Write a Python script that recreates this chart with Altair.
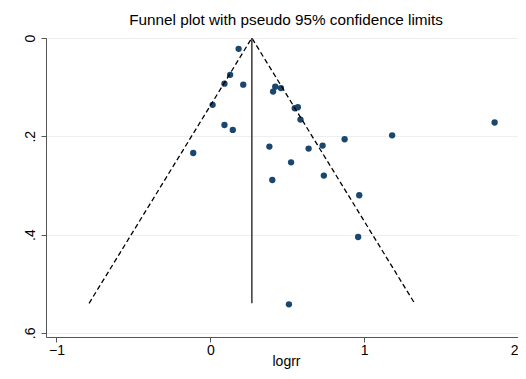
import altair as alt
import pandas as pd

# Study estimates (log relative risk) and their standard errors
logrr = [0.184, 0.129, 0.092, 0.214, 0.015, 0.422, 0.459, 0.408, 0.549, 0.569,
         0.586, 0.092, 0.146, 0.873, 1.182, -0.111, 0.384, 0.639, 0.730, 0.525,
         0.738, 0.403, 0.968, 0.961, 0.511, 1.848]
se = [0.022, 0.075, 0.093, 0.095, 0.136, 0.099, 0.102, 0.109, 0.143, 0.141,
      0.166, 0.177, 0.187, 0.206, 0.198, 0.234, 0.221, 0.225, 0.219, 0.253,
      0.280, 0.289, 0.320, 0.405, 0.542, 0.172]

# Pseudo 95% confidence limits (funnel) and pooled estimate line
funnel_x = [-0.788, 0.27, 1.328]
funnel_y = [0.54, 0.0, 0.54]
funnel_order = [0, 1, 2]
pooled_x = [0.27]
pooled_y0 = [0.0]
pooled_y1 = [0.54]

x_ticks = [-1, 0, 1, 2]
y_ticks = [0, 0.2, 0.4, 0.6]

points = pd.DataFrame({"logrr": logrr, "se": se})
funnel = pd.DataFrame({"x": funnel_x, "y": funnel_y, "o": funnel_order})
pooled = pd.DataFrame({"x": pooled_x, "y": pooled_y0, "y2": pooled_y1})

FONT = "Liberation Sans"

xscale = alt.Scale(domain=[-1.068, 2.0], nice=False, zero=False)
yscale = alt.Scale(domain=[0, 0.6085], reverse=True, nice=False, zero=False)

xaxis = alt.Axis(values=x_ticks, format="d", title="logrr", grid=False,
                 labelFontSize=14, titleFontSize=14, labelFont=FONT, titleFont=FONT,
                 labelColor="black", titleColor="black", titleFontWeight="normal",
                 domainColor="#555555", tickColor="#555555", tickSize=5,
                 labelPadding=1, titlePadding=-3, labelFlush=True, labelFlushOffset=0,
                 titleX=240, titleAnchor="middle")
yaxis = alt.Axis(values=y_ticks, title=None, grid=True, gridColor="#eeeeee",
                 labelExpr="datum.value == 0 ? '0' : replace(format(datum.value, '.1f'), '0.', '.')",
                 labelAngle=-90, labelAlign="center", labelBaseline="bottom",
                 labelFontSize=14, labelFont=FONT, labelColor="black",
                 domainColor="#555555", tickColor="#555555", tickSize=5,
                 labelPadding=4, labelFlush=False)

pts = alt.Chart(points).mark_circle(size=40, color="#1a476f", opacity=1).encode(
    x=alt.X("logrr:Q", scale=xscale, axis=xaxis),
    y=alt.Y("se:Q", scale=yscale, axis=yaxis),
)

lines = alt.Chart(funnel).mark_line(color="black", strokeDash=[5, 3], strokeWidth=1.3).encode(
    x=alt.X("x:Q", scale=xscale),
    y=alt.Y("y:Q", scale=yscale),
    order="o:Q",
)

rule = alt.Chart(pooled).mark_rule(color="#444444", strokeWidth=1.6).encode(
    x=alt.X("x:Q", scale=xscale),
    y=alt.Y("y:Q", scale=yscale),
    y2="y2:Q",
)

chart = alt.layer(pts, lines, rule).properties(
    width=472,
    height=299,
    title=alt.TitleParams("Funnel plot with pseudo 95% confidence limits",
                          fontSize=15.3, font=FONT, fontWeight="normal",
                          color="black", anchor="middle", offset=6, dx=4),
    autosize=alt.AutoSizeParams(type="none"),
    padding={"left": 38, "top": 30, "right": 0, "bottom": 34},
    background="white",
).configure_view(stroke=None)

chart.save("out.html", embed_options={"renderer": "svg", "actions": False})
